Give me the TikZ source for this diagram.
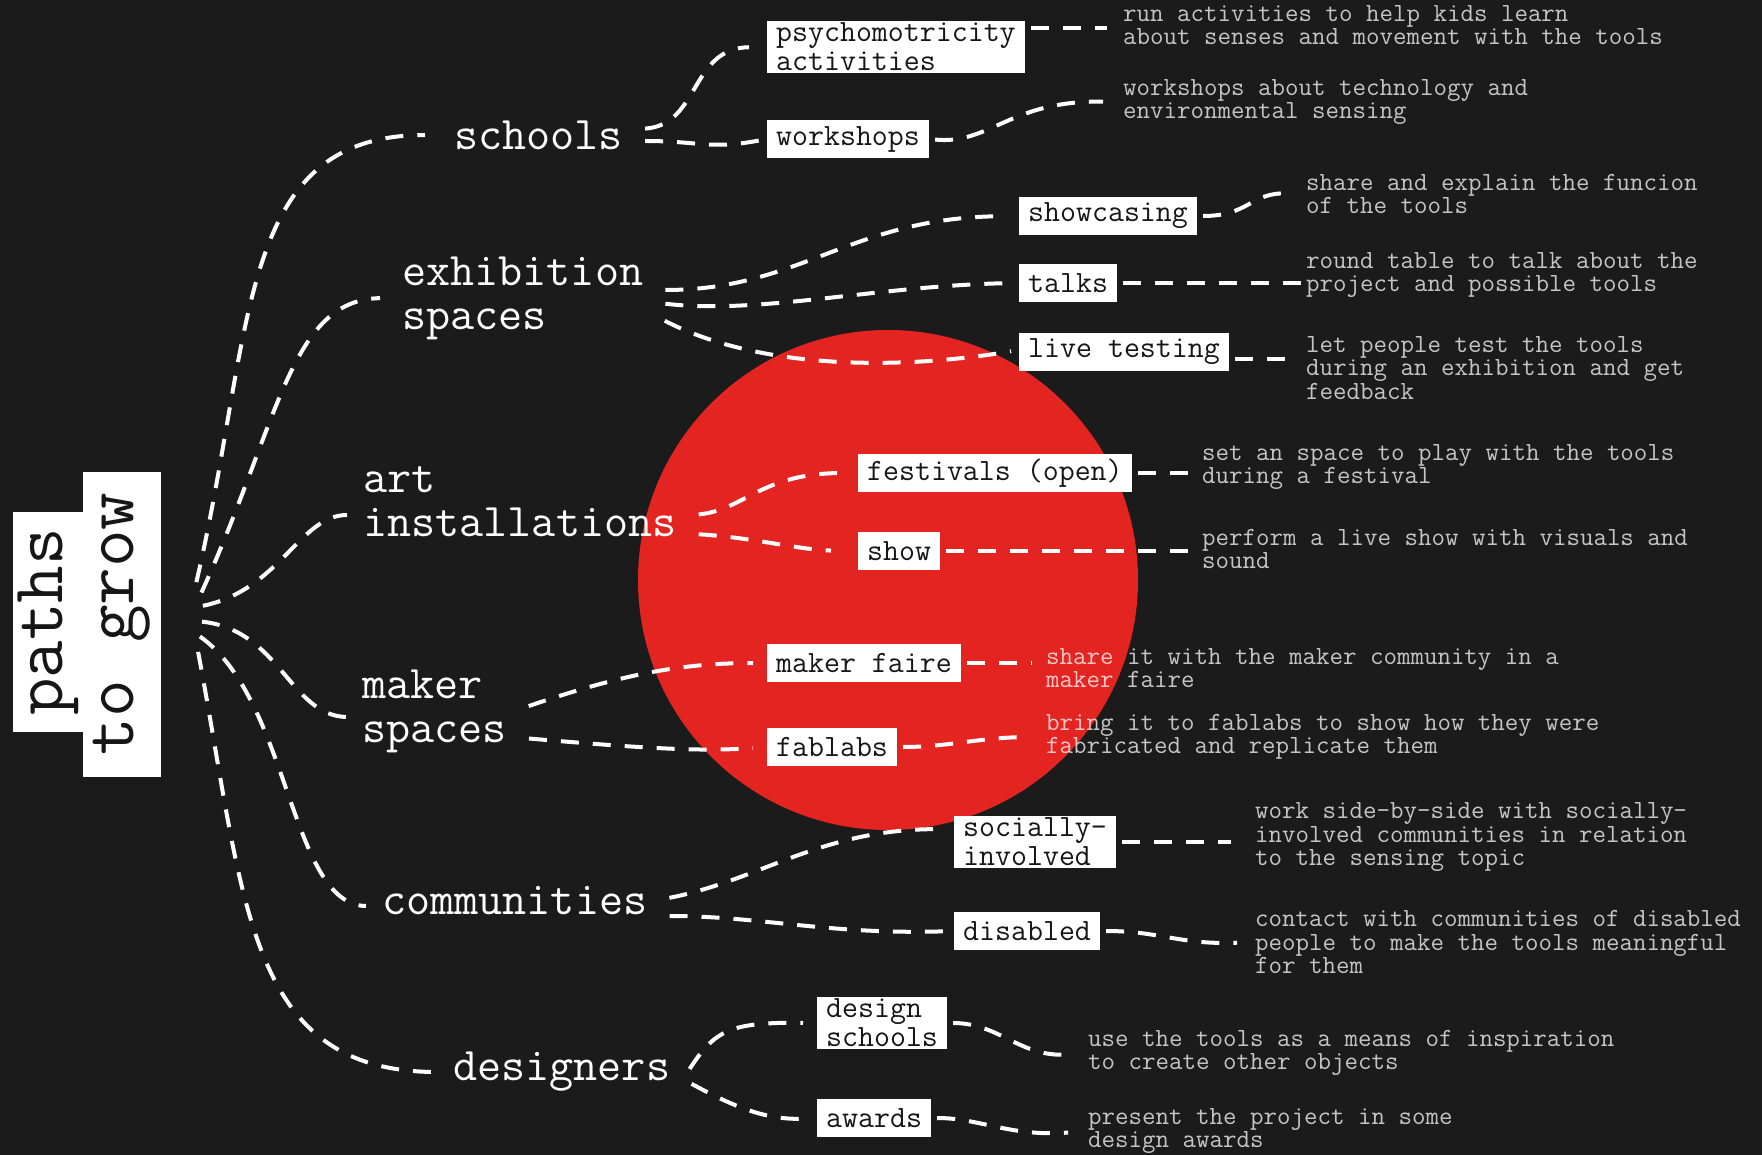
\documentclass[tikz,border=0pt]{standalone}
\usepackage{fontspec}
\usepackage{tikz}
\usetikzlibrary{positioning, calc}
\definecolor{bgDark}{HTML}{1B1B1B}
\definecolor{dotRed}{HTML}{E32420}
\definecolor{inkDark}{HTML}{161616}

\begin{document}
\begin{tikzpicture}[x=1pt, y=-1pt,
    link/.style={white, line width=4pt, dash pattern=on 18pt off 14pt, shorten <=6pt},
    title/.style={fill=white, text=inkDark, font=\ttfamily\fontsize{73}{73}\selectfont, rotate=90, inner sep=0pt},
    branch/.style={text=white, font=\ttfamily\fontsize{46.8}{44}\selectfont, align=left, inner xsep=16pt, inner ysep=0pt, anchor=west},
    tag/.style={fill=white, text=inkDark, font=\ttfamily\fontsize{31}{29}\selectfont, align=left, inner xsep=9pt, inner ysep=2pt, minimum height=38pt, anchor=west},
    note/.style={text=white, text opacity=0.75, font=\ttfamily\fontsize{26.2}{23.5}\selectfont, align=left, inner sep=0pt, anchor=west}]

    % Background and red disc
    \fill[bgDark] (0,0) rectangle (1762,1155);
    \useasboundingbox (0,0) rectangle (1762,1155);
    \fill[dotRed] (888,580) circle[radius=250pt];

    % Title
    \node[title, minimum width=220pt, minimum height=71pt] (paths) at (48,622) {paths};
    \node[title, minimum width=305pt, minimum height=78pt] (grow) at (122,624) {to grow};

    % Roots of the fan
    \coordinate (hubS) at (195,588);
    \coordinate (hubE) at (199,598);
    \coordinate (hubA) at (197,607);
    \coordinate (hubM) at (196,621);
    \coordinate (hubC) at (195,633);
    \coordinate (hubD) at (197,646);

    % Branches
    \node[branch] (schools) at (438,135) {schools};
    \node[branch] (exhib) at (386,298) {exhibition\\spaces};
    \node[branch] (art) at (347,502) {art\\installations};
    \node[branch] (maker) at (346,711) {maker\\spaces};
    \node[branch] (comm) at (366,901) {communities};
    \node[branch] (design) at (437,1072) {designers};

    % Tags
    \node[tag] (psycho) at (767,47) {psychomotricity\\activities};
    \node[tag] (wshop) at (767,139) {workshops};
    \node[tag] (showc) at (1019,216) {showcasing};
    \node[tag] (talks) at (1019,283) {talks};
    \node[tag] (live) at (1019,352) {live testing};
    \node[tag] (fest) at (858,473) {festivals (open)};
    \node[tag] (showb) at (858,551) {show};
    \node[tag] (faire) at (767,663) {maker faire};
    \node[tag] (fablab) at (767,747) {fablabs};
    \node[tag] (social) at (954,842) {socially-\\involved};
    \node[tag] (disab) at (954,931) {disabled};
    \node[tag] (dschool) at (817,1023) {design\\schools};
    \node[tag] (awards) at (817,1118) {awards};

    % Notes
    \node[note] (nPsycho) at (1123,25) {run activities to help kids learn\\about senses and movement with the tools};
    \node[note] (nWshop) at (1123,102) {workshops about technology and\\environmental sensing};
    \node[note] (nShowc) at (1306,194) {share and explain the funcion\\of the tools};
    \node[note] (nTalks) at (1306,275) {round table to talk about the\\project and possible tools};
    \node[note] (nLive) at (1306,368) {let people test the tools\\during an exhibition and get\\feedback};
    \node[note] (nFest) at (1202,467) {set an space to play with the tools\\during a festival};
    \node[note] (nShowb) at (1202,549) {perform a live show with visuals and\\sound};
    \node[note] (nFaire) at (1046,668) {share it with the maker community in a\\maker faire};
    \node[note] (nFablab) at (1046,737) {bring it to fablabs to show how they were\\fabricated and replicate them};
    \node[note] (nSocial) at (1255,837) {work side-by-side with socially-\\involved communities in relation\\to the sensing topic};
    \node[note] (nDisab) at (1255,942) {contact with communities of disabled\\people to make the tools meaningful\\for them};
    \node[note] (nDschool) at (1088,1053) {use the tools as a means of inspiration\\to create other objects};
    \node[note] (nAwards) at (1088,1131) {present the project in some\\design awards};

    % Fan to branches
    \draw[link, shorten >=13pt] (hubS) .. controls (255,330) and (235,135) .. (schools.west);
    \draw[link, shorten >=6pt] (hubE) .. controls (280,420) and (290,300) .. (exhib.west);
    \draw[link] (hubA) .. controls (280,590) and (300,515) .. ([yshift=-13pt]art.west);
    \draw[link] (hubM) .. controls (280,630) and (290,715) .. ([yshift=-6pt]maker.west);
    \draw[link] (hubC) .. controls (290,700) and (290,905) .. ([yshift=-5pt]comm.west);
    \draw[link] (hubD) .. controls (245,900) and (245,1072) .. (design.west);

    % Branches to tags
    \draw[link, shorten >=18pt] ([yshift=6pt]schools.east) .. controls (700,125) and (690,48) .. (psycho.west);
    \draw[link, shorten >=6pt] ([yshift=-6pt]schools.east) .. controls (700,141) and (710,150) .. (wshop.west);
    \draw[link, shorten >=20pt] ([yshift=8pt]exhib.east) .. controls (800,290) and (850,218) .. (showc.west);
    \draw[link, shorten >=8pt] ([yshift=-5pt]exhib.east) .. controls (760,315) and (880,285) .. (talks.west);
    \draw[link, shorten >=8pt] ([yshift=-20pt]exhib.east) .. controls (760,370) and (900,370) .. ([yshift=2pt]live.west);
    \draw[link, shorten >=15pt] ([yshift=-13pt]art.east) .. controls (745,510) and (760,473) .. (fest.west);
    \draw[link, shorten >=27pt] ([yshift=-32pt]art.east) .. controls (750,537) and (800,550) .. (showb.west);
    \draw[link, shorten >=14pt] ([yshift=3pt]maker.east) .. controls (620,675) and (680,663) .. (faire.west);
    \draw[link, shorten >=14pt] ([yshift=-27pt]maker.east) .. controls (640,748) and (700,752) .. (fablab.west);
    \draw[link, shorten >=21pt] ([yshift=2pt]comm.east) .. controls (760,880) and (820,830) .. ([yshift=13pt]social.west);
    \draw[link, shorten >=10pt] ([yshift=-15pt]comm.east) .. controls (760,916) and (830,935) .. (disab.west);
    \draw[link, shorten >=14pt] ([yshift=-2pt]design.east) .. controls (715,1030) and (730,1022) .. (dschool.west);
    \draw[link, shorten >=8pt] ([yshift=-9pt]design.east) .. controls (740,1110) and (770,1121) .. (awards.west);

    % Tags to notes
    \draw[link, shorten >=16pt] ([yshift=19pt]psycho.east) -- ([yshift=19pt]psycho.east -| nPsycho.west);
    \draw[link, shorten >=20pt] (wshop.east) .. controls (990,145) and (1010,100) .. (nWshop.west);
    \draw[link, shorten >=18pt] (showc.east) .. controls (1250,216) and (1250,192) .. (nShowc.west);
    \draw[link, shorten >=2pt] (talks.east) -- (talks.east -| nTalks.west);
    \draw[link, shorten >=16pt] ([yshift=-7pt]live.east) -- ([yshift=-7pt]live.east -| nLive.west);
    \draw[link, shorten >=10pt] (fest.east) -- (fest.east -| nFest.west);
    \draw[link, shorten >=8pt] (showb.east) -- (showb.east -| nShowb.west);
    \draw[link, shorten >=14pt] (faire.east) -- (faire.east -| nFaire.west);
    \draw[link, shorten >=16pt] (fablab.east) .. controls (950,747) and (980,737) .. (nFablab.west);
    \draw[link, shorten >=24pt] (social.east) -- (social.east -| nSocial.west);
    \draw[link, shorten >=18pt] (disab.east) .. controls (1160,931) and (1180,945) .. (nDisab.west);
    \draw[link, shorten >=20pt] (dschool.east) .. controls (1000,1023) and (1020,1058) .. (nDschool.west);
    \draw[link, shorten >=20pt] (awards.east) .. controls (980,1118) and (1010,1137) .. (nAwards.west);
\end{tikzpicture}
\end{document}
